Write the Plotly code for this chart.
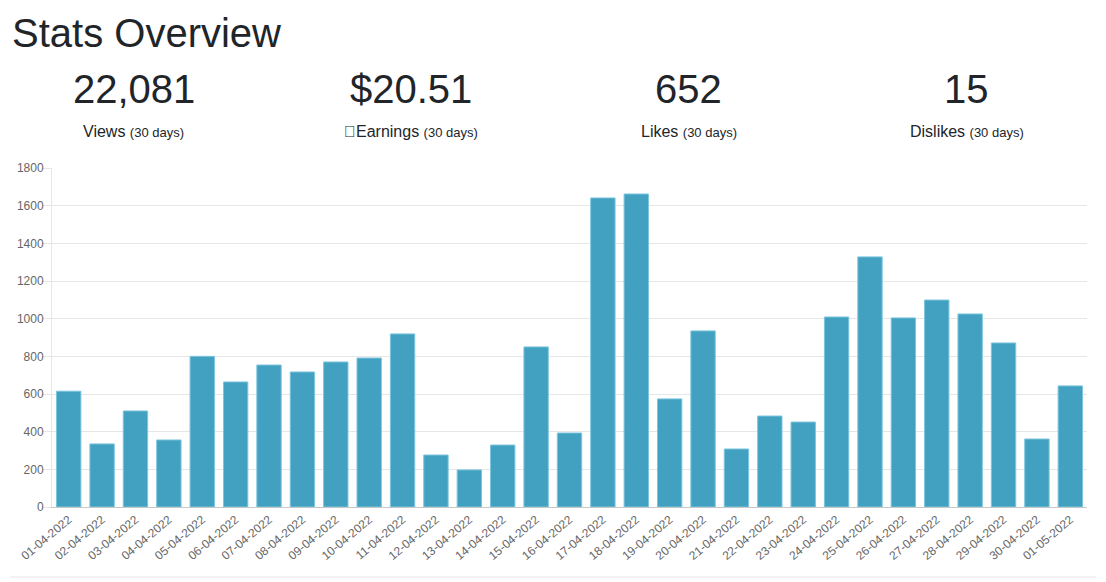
import plotly.graph_objects as go

W, H = 1106, 582

dates = ["01-04-2022", "02-04-2022", "03-04-2022", "04-04-2022", "05-04-2022",
         "06-04-2022", "07-04-2022", "08-04-2022", "09-04-2022", "10-04-2022",
         "11-04-2022", "12-04-2022", "13-04-2022", "14-04-2022", "15-04-2022",
         "16-04-2022", "17-04-2022", "18-04-2022", "19-04-2022", "20-04-2022",
         "21-04-2022", "22-04-2022", "23-04-2022", "24-04-2022", "25-04-2022",
         "26-04-2022", "27-04-2022", "28-04-2022", "29-04-2022", "30-04-2022",
         "01-05-2022"]
views = [615, 335, 510, 356, 800, 664, 754, 717, 770, 791,
         919, 276, 197, 329, 850, 393, 1641, 1662, 574, 935,
         308, 483, 451, 1009, 1328, 1004, 1099, 1025, 871, 361,
         643]

stat_values = ["22,081", "$20.51", "652", "15"]
stat_labels = ["Views", "\uf155Earnings", "Likes", "Dislikes"]
stat_period = "(30 days)"

FONT = "Liberation Sans, Arial, Helvetica, sans-serif"
DARK = "#212529"


def px(x):
    return x / W


def py(y):
    return 1 - y / H


fig = go.Figure()
fig.add_trace(go.Bar(
    x=dates, y=views,
    marker=dict(color="#42a0c0", line=dict(color="#7cc6de", width=1)),
    hoverinfo="x+y",
))

annotations = [dict(
    text="Stats Overview", x=px(10), y=py(33), xanchor="left", yanchor="middle",
    xref="paper", yref="paper", showarrow=False,
    font=dict(family=FONT, size=40, color=DARK),
)]
for i, (val, lab) in enumerate(zip(stat_values, stat_labels)):
    cx = 133.5 + 277.7 * i
    annotations.append(dict(
        text=val, x=px(cx), y=py(89), xanchor="center", yanchor="middle",
        xref="paper", yref="paper", showarrow=False,
        font=dict(family=FONT, size=40, color=DARK),
    ))
    annotations.append(dict(
        text=f"{lab} <span style='font-size:13px'>{stat_period}</span>",
        x=px(cx), y=py(132), xanchor="center", yanchor="middle",
        xref="paper", yref="paper", showarrow=False,
        font=dict(family=FONT, size=16, color=DARK),
    ))

fig.update_layout(
    width=W, height=H,
    margin=dict(l=0, r=0, t=0, b=0, pad=0),
    paper_bgcolor="white", plot_bgcolor="white",
    showlegend=False,
    bargap=0.27,
    font=dict(family=FONT, size=12, color="#666"),
    annotations=annotations,
    shapes=[dict(type="line", xref="paper", yref="paper",
                 x0=px(10), x1=px(1096), y0=py(577), y1=py(577),
                 line=dict(color="#e6e6e6", width=1))],
    xaxis=dict(
        domain=[px(52), px(1087)],
        automargin=False,
        tickangle=-40,
        showgrid=False,
        showline=True, linecolor="#c8c8c8", linewidth=1,
        ticks="", tickfont=dict(size=12, color="#666"),
        fixedrange=True,
    ),
    yaxis=dict(
        domain=[py(507), py(168)],
        automargin=False,
        range=[0, 1800], dtick=200,
        showgrid=True, gridcolor="#e6e6e6", gridwidth=1,
        zeroline=False,
        showline=True, linecolor="#e6e6e6", linewidth=1,
        ticks="outside", ticklen=9, tickcolor="#e6e6e6",
        ticklabelstandoff=-4,
        tickfont=dict(size=12, color="#666"),
        fixedrange=True,
    ),
)

fig.write_html("out.html", config={"displayModeBar": False},
               post_script="document.body.style.margin='0';")
